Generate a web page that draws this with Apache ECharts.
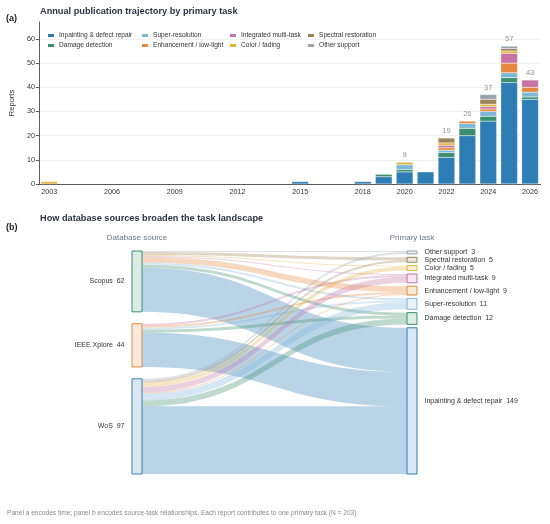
<!DOCTYPE html>
<html>
<head>
<meta charset="utf-8">
<title>Publication trajectory and source-task flows</title>
<script src="https://cdn.jsdelivr.net/npm/echarts@6.0.0/dist/echarts.min.js"></script>
<style>
    html, body { margin: 0; padding: 0; background: #fff; }
    #chart { width: 550px; height: 524px; }
</style>
</head>
<body>
<div id="chart"></div>
<script>
// ---- data ----
var years = ['2003', '2004', '2005', '2006', '2007', '2008', '2009', '2010', '2011', '2012', '2013', '2014',
    '2015', '2016', '2017', '2018', '2019', '2020', '2021', '2022', '2023', '2024', '2025', '2026'];
var shownYears = ['2003', '2006', '2009', '2012', '2015', '2018', '2020', '2022', '2024', '2026'];

// stack order, bottom to top
var tasks = ['Inpainting & defect repair', 'Damage detection', 'Super-resolution', 'Enhancement / low-light',
    'Integrated multi-task', 'Color / fading', 'Spectral restoration', 'Other support'];
var taskColors = ['#2f7db5', '#3a8e6e', '#7db7d8', '#e4883f', '#c574a5', '#e2b23c', '#9b8457', '#97a3ac'];

//                  2003 ...                               2015       2018 2019 2020 2021 2022 2023 2024 2025 2026
var inpainting  = [0, 0, 0, 0, 0, 0, 0, 0, 0, 0, 0, 0, 1, 0, 0, 1, 3, 5, 5, 11, 20, 26, 42, 35];
var damage      = [0, 0, 0, 0, 0, 0, 0, 0, 0, 0, 0, 0, 0, 0, 0, 0, 1, 1, 0, 2, 3, 2, 2, 1];
var superRes    = [0, 0, 0, 0, 0, 0, 0, 0, 0, 0, 0, 0, 0, 0, 0, 0, 0, 2, 0, 1, 2, 2, 2, 2];
var enhancement = [0, 0, 0, 0, 0, 0, 0, 0, 0, 0, 0, 0, 0, 0, 0, 0, 0, 0, 0, 1, 1, 1, 4, 2];
var integrated  = [0, 0, 0, 0, 0, 0, 0, 0, 0, 0, 0, 0, 0, 0, 0, 0, 0, 0, 0, 1, 0, 1, 4, 3];
var colorFading = [1, 0, 0, 0, 0, 0, 0, 0, 0, 0, 0, 0, 0, 0, 0, 0, 0, 1, 0, 1, 0, 1, 1, 0];
var spectral    = [0, 0, 0, 0, 0, 0, 0, 0, 0, 0, 0, 0, 0, 0, 0, 0, 0, 0, 0, 2, 0, 2, 1, 0];
var other       = [0, 0, 0, 0, 0, 0, 0, 0, 0, 0, 0, 0, 0, 0, 0, 0, 0, 0, 0, 0, 0, 2, 1, 0];
var taskSeries = [inpainting, damage, superRes, enhancement, integrated, colorFading, spectral, other];
var labelMinTotal = 8;

// sankey: sources and their flows into each task (same order as tasks)
var sources = ['Scopus', 'IEEE Xplore', 'WoS'];
var sourceColors = ['#3a8e6e', '#e08a45', '#3b7fb2'];
var scopusFlows = [45, 3, 2, 6, 1, 1, 3, 1];
var ieeeFlows   = [35, 3, 2, 2, 2, 0, 0, 0];
var wosFlows    = [69, 6, 7, 1, 6, 4, 2, 2];
var sourceFlows = [scopusFlows, ieeeFlows, wosFlows];

// ---- helpers ----
function rgba(hex, a) {
    var r = parseInt(hex.substr(1, 2), 16);
    var g = parseInt(hex.substr(3, 2), 16);
    var b = parseInt(hex.substr(5, 2), 16);
    return 'rgba(' + r + ',' + g + ',' + b + ',' + a + ')';
}

var FONT = 'Liberation Sans';

// totals for the labels above the bars
var totals = years.map(function (y, i) {
    var s = 0;
    taskSeries.forEach(function (arr) { s += arr[i]; });
    return s >= labelMinTotal ? s : '-';
});

// ---- bar series ----
var series = [];
tasks.forEach(function (name, k) {
    series.push({
        name: name,
        type: 'bar',
        stack: 'year',
        barWidth: '80%',
        // empty years are left out so no zero-height stubs are drawn
        data: taskSeries[k].map(function (v) { return v > 0 ? v : '-'; }),
        itemStyle: { color: taskColors[k], borderColor: '#fff', borderWidth: 0.3 },
        emphasis: { disabled: true }
    });
});
series.push({
    name: 'total',
    type: 'scatter',
    symbolSize: 0,
    data: totals,
    silent: true,
    label: {
        show: true, position: 'top', distance: 3,
        fontFamily: FONT, fontSize: 7.5, color: '#777',
        formatter: function (p) { return p.value; }
    }
});

// ---- sankey ----
var sankeyTop = 251, sankeyBottom = 474;
var sankeyH = sankeyBottom - sankeyTop;
var rightGap = 3.4;
var grand = 0;
var sourceTotals = sourceFlows.map(function (f) {
    var s = f.reduce(function (a, b) { return a + b; }, 0);
    grand += s;
    return s;
});
var ky = (sankeyH - (tasks.length - 1) * rightGap) / grand;
var leftGap = (sankeyH - grand * ky) / (sources.length - 1);

var nodes = [];
var acc = 0;
sources.forEach(function (name, i) {
    nodes.push({
        name: name,
        localY: (acc * ky + i * leftGap) / sankeyH,
        itemStyle: { color: rgba(sourceColors[i], 0.18), borderColor: sourceColors[i], borderWidth: 1 },
        label: { position: 'left' }
    });
    acc += sourceTotals[i];
});
// tasks listed top to bottom on the right (reverse of stack order)
for (var k = tasks.length - 1; k >= 0; k--) {
    nodes.push({
        name: tasks[k],
        itemStyle: { color: rgba(taskColors[k], 0.18), borderColor: taskColors[k], borderWidth: 1 },
        label: { position: 'right' }
    });
}
var links = [];
sources.forEach(function (src, i) {
    tasks.forEach(function (t, k) {
        if (sourceFlows[i][k] > 0) {
            links.push({
                source: src, target: t, value: sourceFlows[i][k],
                lineStyle: { color: taskColors[k], opacity: 0.33 }
            });
        }
    });
});

series.push({
    type: 'sankey',
    left: 132, right: 133, top: sankeyTop, bottom: 524 - sankeyBottom,
    nodeWidth: 10,
    nodeGap: rightGap,
    layoutIterations: 0,
    nodeAlign: 'justify',
    draggable: false,
    emphasis: { disabled: true },
    data: nodes,
    links: links,
    lineStyle: { curveness: 0.5 },
    label: {
        fontFamily: FONT, fontSize: 7, color: '#333', distance: 7,
        formatter: function (p) { return p.name + '  ' + p.value; }
    }
});

// ---- legends: 4 columns of 2 ----
var legendCols = [[0, 1], [2, 3], [4, 5], [6, 7]];
var legendLefts = [41, 135, 223, 301];
var legends = legendCols.map(function (col, c) {
    return {
        orient: 'vertical',
        left: legendLefts[c], top: 27,
        itemWidth: 8, itemHeight: 5, itemGap: 3,
        icon: 'rect',
        selectedMode: false,
        data: col.map(function (k) { return tasks[k]; }),
        textStyle: { fontFamily: FONT, fontSize: 6.6, color: '#333', padding: [0, 0, 0, -1] }
    };
});

var dom = document.getElementById('chart');
var myChart = echarts.init(dom, null, { renderer: 'canvas' });
var option = {
    backgroundColor: '#fff',
    animation: false,
    textStyle: { fontFamily: FONT },
    title: [
        { text: 'Annual publication trajectory by primary task', left: 35, top: 2,
          textStyle: { fontFamily: FONT, fontSize: 9.2, fontWeight: 'bold', color: '#2b3440' } },
        { text: 'How database sources broaden the task landscape', left: 35, top: 209,
          textStyle: { fontFamily: FONT, fontSize: 9.2, fontWeight: 'bold', color: '#2b3440' } }
    ],
    legend: legends,
    grid: { left: 36.5, right: 9.5, top: 22, bottom: 340 },
    xAxis: {
        type: 'category',
        data: years,
        axisLine: { lineStyle: { color: '#333', width: 0.8 } },
        axisTick: {
            alignWithLabel: true, length: 3, lineStyle: { color: '#333', width: 0.8 },
            interval: function (i, v) { return shownYears.indexOf(v) >= 0; }
        },
        axisLabel: {
            fontFamily: FONT, fontSize: 7.2, color: '#333', margin: 5,
            interval: function (i, v) { return shownYears.indexOf(v) >= 0; }
        }
    },
    yAxis: {
        type: 'value',
        min: 0, max: 67, interval: 10,
        name: 'Reports', nameLocation: 'middle', nameGap: 19,
        nameTextStyle: { fontFamily: FONT, fontSize: 7.5, color: '#333' },
        axisLine: { show: true, lineStyle: { color: '#333', width: 0.8 } },
        axisTick: { show: true, length: 3, lineStyle: { color: '#333', width: 0.8 } },
        axisLabel: { fontFamily: FONT, fontSize: 7.2, color: '#333', margin: 4, showMaxLabel: false },
        splitLine: { lineStyle: { color: '#eeeeee', width: 0.8 }, showMaxLine: false }
    },
    graphic: [
        { type: 'text', left: 6, top: 14, style: { text: '(a)', font: 'bold 9px "Liberation Sans"', fill: '#222' } },
        { type: 'text', left: 6, top: 223, style: { text: '(b)', font: 'bold 9px "Liberation Sans"', fill: '#222' } },
        { type: 'text', x: 137, y: 238, style: { text: 'Database source', font: '8px "Liberation Sans"',
            fill: '#6b7886', textAlign: 'center', textVerticalAlign: 'middle' } },
        { type: 'text', x: 412, y: 238, style: { text: 'Primary task', font: '8px "Liberation Sans"',
            fill: '#6b7886', textAlign: 'center', textVerticalAlign: 'middle' } },
        { type: 'text', left: 7, top: 510, style: { text: 'Panel a encodes time; panel b encodes source-task relationships. Each report contributes to one primary task (N = 203).',
            font: '6.6px "Liberation Sans"', fill: '#8a8a8a' } }
    ],
    series: series
};

if (option && typeof option === "object") {
    myChart.setOption(option, true);
}
</script>
</body>
</html>
